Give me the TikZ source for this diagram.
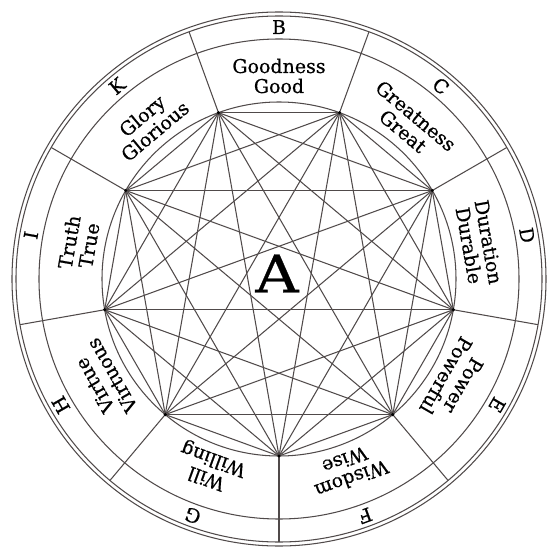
\documentclass[tikz,border=0pt]{standalone}
\usepackage{fontspec}
\setmainfont{DejaVu Serif}
\newfontfamily\lullfont[FakeBold=0.6]{DejaVu Serif}
\definecolor{linec}{RGB}{80,74,74}
\begin{document}
\begin{tikzpicture}[x=1pt,y=1pt,
  ln/.style={draw=linec, line width=1.05pt},
  word/.style={font=\lullfont\fontsize{19}{19}\selectfont, anchor=base, inner sep=0pt, text=black},
  letter/.style={font=\lullfont\fontsize{19}{19}\selectfont, anchor=base, inner sep=0pt, text=black},
  bigletter/.style={font=\lullfont\fontsize{52}{52}\selectfont, inner sep=0pt, text=black, xscale=1.15}
]
\useasboundingbox (-279,-269) rectangle (269,279);
\coordinate (O) at (0,0);
% circles
\draw[ln] (O) circle (267);
\draw[ln] (O) circle (263);
\draw[ln] (O) circle (240);
\draw[ln] (O) circle (177);
% points
\foreach \i in {0,...,8} {
  \pgfmathsetmacro\ang{70-40*\i}
  \coordinate (p\i) at (\ang:177);
  \coordinate (q\i) at (\ang:263);
}
% radial lines
\foreach \i in {0,...,8} {
  \draw[ln] (p\i) -- (q\i);
}
% chords
\foreach \i in {0,...,7} {
  \pgfmathtruncatemacro\s{\i+1}
  \foreach \j in {\s,...,8} {
    \draw[ln] (p\i) -- (p\j);
  }
}
% dots
\foreach \i in {0,...,8} {
  \fill[black] (p\i) circle (1.7);
}
% texts
\foreach \ang/\ltr/\wa/\wb in {90/B/Goodness/Good, 50/C/Greatness/Great, 10/D/Duration/Durable, -30/E/Power/Powerful, -70/F/Wisdom/Wise, -110/G/Will/Willing, -150/H/Virtue/Virtuous, -190/I/Truth/True, -230/K/Glory/Glorious} {
  \node[letter, rotate=\ang-90] (l\ltr) at (\ang:245) {\ltr};
  \node[word, rotate=\ang-90] (wa\ltr) at (\ang:206) {\wa};
  \node[word, rotate=\ang-90] (wb\ltr) at (\ang:186) {\wb};
}
\node[bigletter] (A) at (-2,5.5) {A};
\end{tikzpicture}
\end{document}
